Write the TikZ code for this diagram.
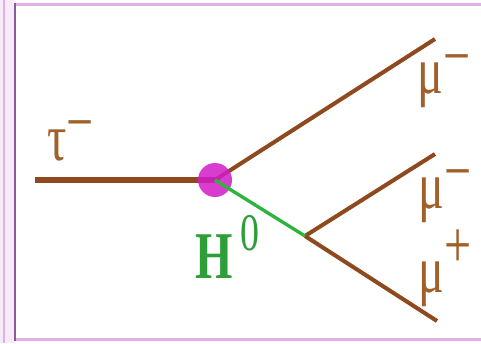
\documentclass[tikz,border=0pt]{standalone}
\usepackage{fontspec}
\setmainfont{Liberation Serif}
\usepackage{xcolor}
\definecolor{leptonbrown}{HTML}{8E4A1E}
\definecolor{labelbrown}{HTML}{A0602A}
\definecolor{higgsgreen}{HTML}{2DB43C}
\definecolor{labelgreen}{HTML}{2E9E3A}
\definecolor{vertexpink}{HTML}{D21CC8}
\definecolor{framepink}{HTML}{E0B0E6}
\definecolor{framepurple}{HTML}{8A5A9A}

\tikzset{
  lepton/.style={leptonbrown, line width=2.3pt},
  higgs/.style={higgsgreen, line width=1.9pt},
  partlabel/.style={font=\fontsize{38}{40}\selectfont, text=labelbrown, xscale=0.72, inner sep=0, anchor=base west},
}

\begin{document}
\begin{tikzpicture}
\useasboundingbox (0,0) rectangle (9.62,6.86);
\fill[white] (0,0) rectangle (9.62,6.86);
% frame
\fill[framepink!25] (0,0) rectangle (0.28,6.86);
\draw[framepink, line width=1.2pt] (0.08,0) -- (0.08,6.86);
\draw[framepink, line width=1.6pt] (0.30,6.77) -- (9.62,6.77);
\draw[framepink, line width=1.6pt] (0.30,0.07) -- (9.62,0.07);
\draw[framepurple, line width=1.4pt] (0.30,6.80) -- (0.30,0.04);

% vertices and ends
\coordinate (tauin) at (0.70,3.26);
\coordinate (hdecay) at (6.10,2.14);
\coordinate (muA) at (8.70,6.08);
\coordinate (muB) at (8.70,3.78);
\coordinate (muC) at (8.74,0.44);
\node[circle, minimum size=0.68cm, inner sep=0] (vtx) at (4.30,3.26) {};

\draw[lepton, line width=3.4pt] (tauin) -- (vtx.center);
\draw[lepton] (vtx.center) -- (muA);
\draw[lepton] (hdecay) -- (muB);
\draw[lepton] (hdecay) -- (muC);
\fill[vertexpink, fill opacity=0.85] (vtx.center) circle (0.34cm);
\draw[higgs] (vtx.center) -- (hdecay);

% labels
\node[partlabel] (tau) at (0.94,3.66) {τ\raisebox{0.23em}{−}};
\node[partlabel] (muone) at (8.34,5.00) {μ\raisebox{0.21em}{−}};
\node[partlabel] (mutwo) at (8.36,2.70) {μ\raisebox{0.21em}{−}};
\node[partlabel] (muthree) at (8.36,1.02) {μ\raisebox{0.37em}{+}};
\node[partlabel, text=labelgreen] (hzero) at (3.90,1.30) {\bfseries H\,\raisebox{0.56cm}{\fontsize{30}{32}\selectfont\mdseries 0}};
\end{tikzpicture}
\end{document}
